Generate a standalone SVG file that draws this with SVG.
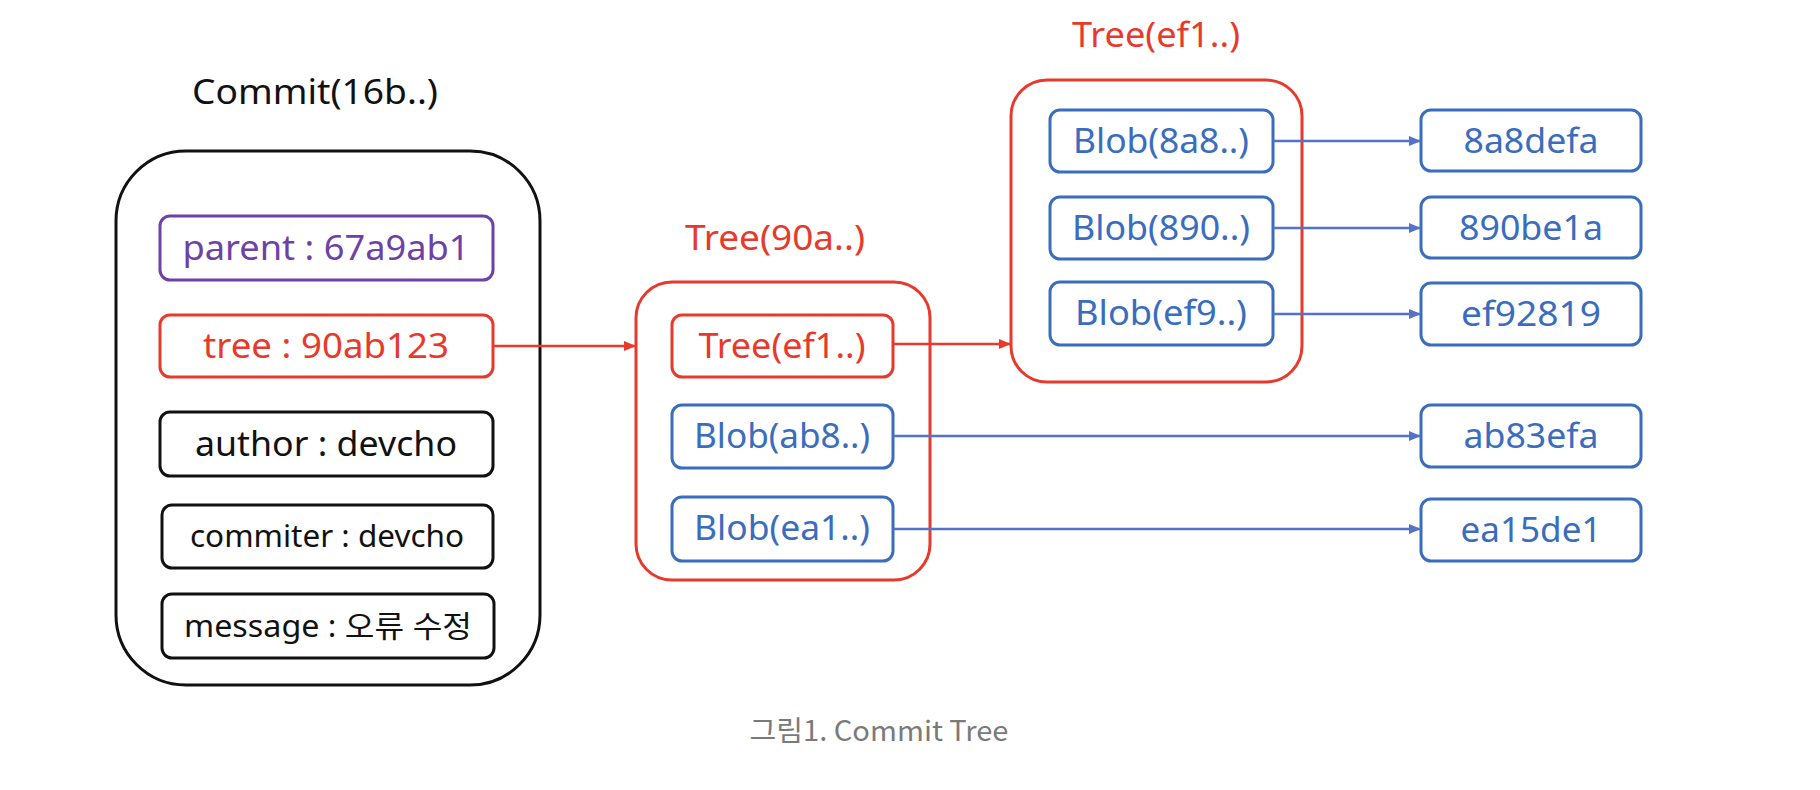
<svg xmlns="http://www.w3.org/2000/svg" width="1820" height="790" viewBox="0 0 1820 790">
<defs>
<marker id="ar" viewBox="0 0 12 10" refX="12" refY="5" markerWidth="12" markerHeight="10" markerUnits="userSpaceOnUse" orient="auto"><path d="M0,0 L12,5 L0,10 Z" fill="#e83a2c"/></marker>
<marker id="ab" viewBox="0 0 12 10" refX="12" refY="5" markerWidth="12" markerHeight="10" markerUnits="userSpaceOnUse" orient="auto"><path d="M0,0 L12,5 L0,10 Z" fill="#5472c6"/></marker>
</defs>
<style>
text{font-family:"Noto Sans","Noto Sans CJK KR",sans-serif;text-anchor:middle}
.k{fill:none;stroke:#111;stroke-width:3}
.r{fill:none;stroke:#e83a2c;stroke-width:3}
.b{fill:none;stroke:#3a6dbd;stroke-width:3}
.p{fill:none;stroke:#6e41a8;stroke-width:3}
.tk{fill:#111;font-size:34px}
.ts{fill:#111;font-size:30px}
.tr{fill:#e83a2c;font-size:34px}
.tb{fill:#3a6dbd;font-size:34px}
.tp{fill:#6e41a8;font-size:34px}
.lr{stroke:#e83a2c;stroke-width:2.5;fill:none}
.lb{stroke:#5472c6;stroke-width:2.5;fill:none}
</style>
<rect width="1820" height="790" fill="#fff"/>
<g id="commit">
<text x="315" y="104" class="tk" font-size="36" textLength="246" lengthAdjust="spacingAndGlyphs">Commit(16b..)</text>
<rect x="116" y="151" width="424" height="534" rx="70" class="k"/>
</g>
<g id="parent"><rect x="160" y="216" width="333" height="64" rx="10" class="p"/><text x="326" y="260" class="tp" textLength="287" lengthAdjust="spacingAndGlyphs">parent : 67a9ab1</text></g>
<g id="tree"><rect x="160" y="315" width="333" height="62" rx="10" class="r"/><text x="326" y="358" class="tr" textLength="246" lengthAdjust="spacingAndGlyphs">tree : 90ab123</text></g>
<g id="author"><rect x="160" y="412" width="333" height="64" rx="10" class="k"/><text x="326" y="456" class="tk" textLength="262" lengthAdjust="spacingAndGlyphs">author : devcho</text></g>
<g id="commiter"><rect x="162" y="505" width="331" height="63" rx="10" class="k"/><text x="327" y="547" class="ts" textLength="274" lengthAdjust="spacingAndGlyphs">commiter : devcho</text></g>
<g id="message"><rect x="162" y="594" width="332" height="64" rx="10" class="k"/><text x="328" y="637" class="ts" textLength="288" lengthAdjust="spacingAndGlyphs">message : 오류 수정</text></g>

<g id="tree90a">
<text x="775" y="250" class="tr" textLength="180" lengthAdjust="spacingAndGlyphs">Tree(90a..)</text>
<rect x="636" y="282" width="294" height="298" rx="36" class="r"/>
</g>
<g id="treeef1-ref"><rect x="672" y="315" width="221" height="62" rx="10" class="r"/><text x="782" y="358" class="tr" textLength="167" lengthAdjust="spacingAndGlyphs">Tree(ef1..)</text></g>
<g id="blobab8"><rect x="672" y="405" width="221" height="63" rx="10" class="b"/><text x="782" y="448" class="tb" textLength="176" lengthAdjust="spacingAndGlyphs">Blob(ab8..)</text></g>
<g id="blobea1"><rect x="672" y="497" width="221" height="64" rx="10" class="b"/><text x="782" y="540" class="tb" textLength="176" lengthAdjust="spacingAndGlyphs">Blob(ea1..)</text></g>

<g id="treeef1">
<text x="1156" y="47" class="tr" textLength="168" lengthAdjust="spacingAndGlyphs">Tree(ef1..)</text>
<rect x="1011" y="80" width="291" height="302" rx="36" class="r"/>
</g>
<g id="blob8a8"><rect x="1050" y="110" width="223" height="62" rx="10" class="b"/><text x="1161" y="153" class="tb" textLength="176" lengthAdjust="spacingAndGlyphs">Blob(8a8..)</text></g>
<g id="blob890"><rect x="1050" y="197" width="223" height="62" rx="10" class="b"/><text x="1161" y="240" class="tb" textLength="178" lengthAdjust="spacingAndGlyphs">Blob(890..)</text></g>
<g id="blobef9"><rect x="1050" y="282" width="223" height="63" rx="10" class="b"/><text x="1161" y="325" class="tb" textLength="172" lengthAdjust="spacingAndGlyphs">Blob(ef9..)</text></g>

<g id="v8a8defa"><rect x="1421" y="110" width="220" height="61" rx="10" class="b"/><text x="1531" y="153" class="tb" textLength="135" lengthAdjust="spacingAndGlyphs">8a8defa</text></g>
<g id="v890be1a"><rect x="1421" y="197" width="220" height="61" rx="10" class="b"/><text x="1531" y="240" class="tb" textLength="144" lengthAdjust="spacingAndGlyphs">890be1a</text></g>
<g id="vef92819"><rect x="1421" y="283" width="220" height="62" rx="10" class="b"/><text x="1531" y="326" class="tb" textLength="140" lengthAdjust="spacingAndGlyphs">ef92819</text></g>
<g id="vab83efa"><rect x="1421" y="405" width="220" height="62" rx="10" class="b"/><text x="1531" y="448" class="tb" textLength="135" lengthAdjust="spacingAndGlyphs">ab83efa</text></g>
<g id="vea15de1"><rect x="1421" y="499" width="220" height="62" rx="10" class="b"/><text x="1531" y="542" class="tb" textLength="141" lengthAdjust="spacingAndGlyphs">ea15de1</text></g>

<g id="connectors">
<line x1="493" y1="346" x2="636" y2="346" class="lr" marker-end="url(#ar)"/>
<line x1="893" y1="344" x2="1011" y2="344" class="lr" marker-end="url(#ar)"/>
<line x1="1273" y1="141" x2="1421" y2="141" class="lb" marker-end="url(#ab)"/>
<line x1="1273" y1="228" x2="1421" y2="228" class="lb" marker-end="url(#ab)"/>
<line x1="1273" y1="314" x2="1421" y2="314" class="lb" marker-end="url(#ab)"/>
<line x1="893" y1="436" x2="1421" y2="436" class="lb" marker-end="url(#ab)"/>
<line x1="893" y1="529" x2="1421" y2="529" class="lb" marker-end="url(#ab)"/>
</g>
<text x="879" y="741" font-size="28" fill="#7a7a7a" style="font-family:'Noto Sans CJK KR',sans-serif" textLength="259" lengthAdjust="spacingAndGlyphs">그림1. Commit Tree</text>
</svg>
